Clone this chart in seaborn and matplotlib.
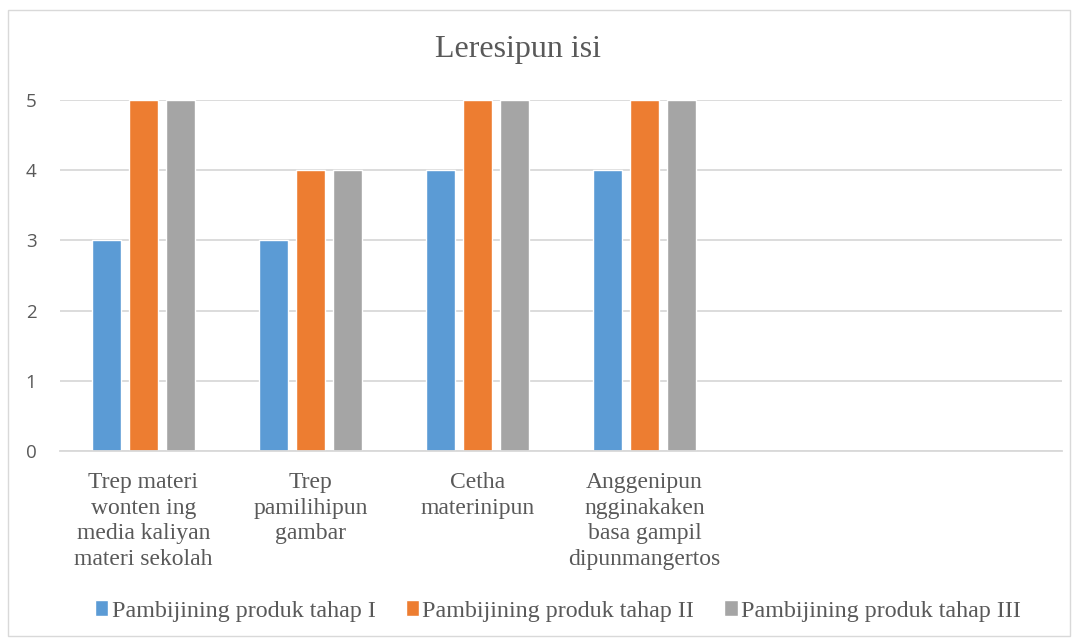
import matplotlib
matplotlib.use("Agg")
import matplotlib.pyplot as plt
from matplotlib.patches import Rectangle
import seaborn as sns
import pandas as pd

categories = [
    "Trep materi\nwonten ing\nmedia kaliyan\nmateri sekolah",
    "Trep\npamilihipun\ngambar",
    "Cetha\nmaterinipun",
    "Anggenipun\nngginakaken\nbasa gampil\ndipunmangertos",
]
empty_slots = ["", " "]
series = ["Pambijining produk tahap I", "Pambijining produk tahap II", "Pambijining produk tahap III"]
tahap_1 = [3, 3, 4, 4]
tahap_2 = [5, 4, 5, 5]
tahap_3 = [5, 4, 5, 5]
colors = ["#5B9BD5", "#ED7D31", "#A5A5A5"]

rows = []
for name, vals in zip(series, [tahap_1, tahap_2, tahap_3]):
    for cat, v in zip(categories, vals):
        rows.append({"kategori": cat, "seri": name, "nilai": v})
df = pd.DataFrame(rows)

sns.set_style("white")
plt.rcParams["font.family"] = ["Liberation Serif", "DejaVu Serif"]

fig = plt.figure(figsize=(10.78, 6.44), dpi=100)
ax = fig.add_axes([60 / 1078, 1 - 451 / 644, 1002 / 1078, 351 / 644])

order = categories + empty_slots
sns.barplot(data=df, x="kategori", y="nilai", hue="seri", order=order,
            hue_order=series, palette=colors, width=0.665, errorbar=None,
            saturation=1, ax=ax, legend=True)

# leave small gaps between bars within a group
bar_w = 29 / 167
for p in ax.patches:
    if p.get_height() > 0:
        c = p.get_x() + p.get_width() / 2
        p.set_x(c - bar_w / 2)
        p.set_width(bar_w)

ax.set_xlim(-0.5, len(order) - 0.5)
ax.set_ylim(0, 5)
ax.set_yticks(range(6))
ax.yaxis.grid(True, color="#D9D9D9", linewidth=1.3)
ax.set_axisbelow(True)
for s in ["top", "right", "left"]:
    ax.spines[s].set_visible(False)
ax.spines["bottom"].set_color("#D9D9D9")
ax.spines["bottom"].set_linewidth(1.3)
ax.tick_params(axis="both", length=0)
ax.tick_params(axis="y", pad=17)
ax.tick_params(axis="x", pad=15)
for t in ax.get_yticklabels():
    t.set_family(["Open Sans", "DejaVu Sans"])
    t.set_fontsize(13.5)
    t.set_color("#595959")
for t in ax.get_xticklabels():
    t.set_fontsize(17)
    t.set_color("#595959")
    t.set_linespacing(1.3)
ax.set_xlabel("")
ax.set_ylabel("")

fig.text(518 / 1078, 1 - 50 / 644, "Leresipun isi", ha="center", va="center",
         fontsize=23, color="#595959")

leg = ax.legend(loc="center", bbox_to_anchor=(558 / 1078, 1 - 611 / 644), bbox_transform=fig.transFigure,
                ncol=3, frameon=False, fontsize=17.3, handlelength=0.55, handleheight=0.65,
                handletextpad=0.15, columnspacing=1.25)
for t in leg.get_texts():
    t.set_color("#595959")

fig.patches.append(Rectangle((8 / 1078, 1 - 636 / 644), 1062 / 1078, 626 / 644,
                             transform=fig.transFigure, fill=False,
                             edgecolor="#D9D9D9", linewidth=1))

fig.savefig("out.png", dpi=100)
